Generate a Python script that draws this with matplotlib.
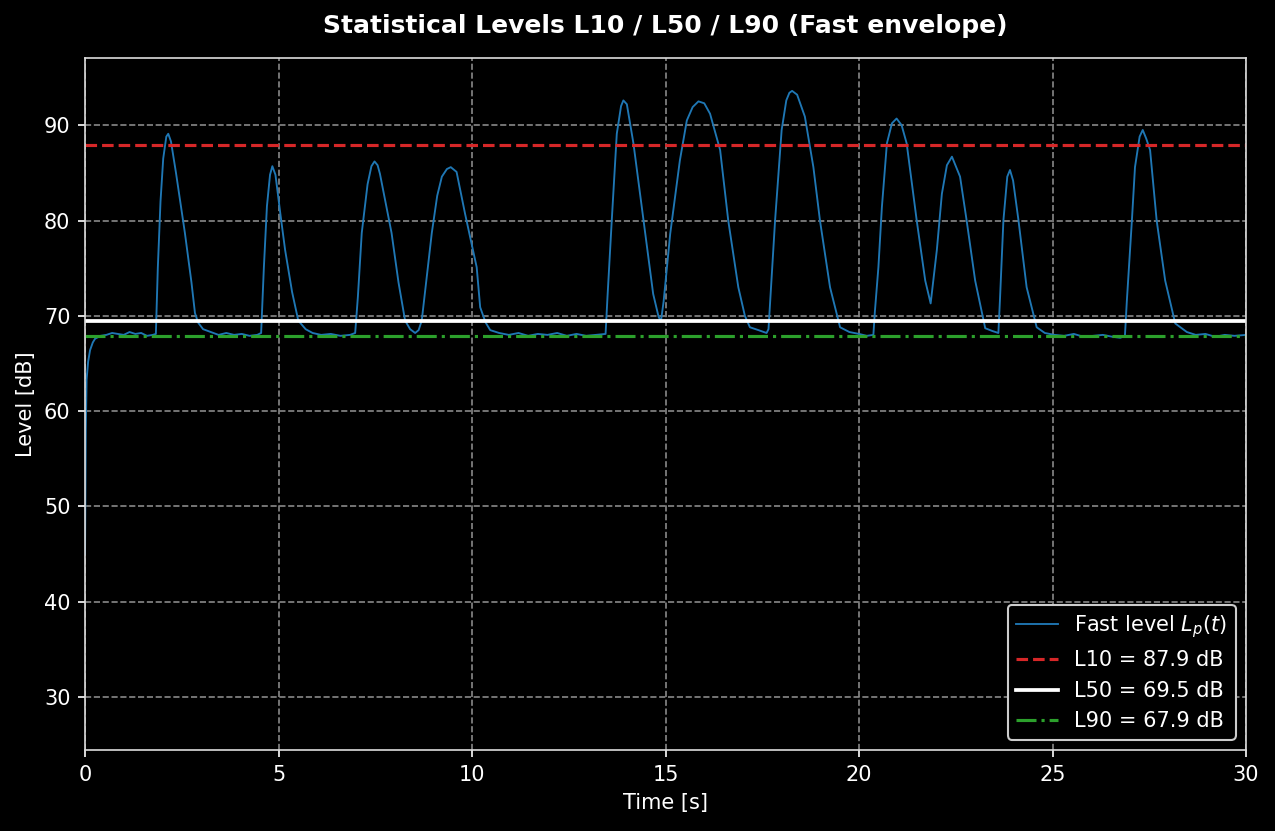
"""
Statistical levels L10 / L50 / L90 on a fast-weighted level trace.
Values read by eye from the reference chart.
"""

import matplotlib
matplotlib.use("Agg")
import matplotlib.pyplot as plt

# ── Data: fast level trace (time [s], level [dB]) ───────────────────────────────
time_s = [
    0.00, 0.02, 0.04, 0.08, 0.13, 0.20, 0.26, 0.40, 0.55, 0.70, 0.85, 1.00,
    1.15, 1.30, 1.45, 1.60, 1.75, 1.83, 1.88, 1.95, 2.02, 2.10, 2.15, 2.22,
    2.35, 2.58, 2.75, 2.84, 2.92, 3.05, 3.25, 3.45, 3.65, 3.85, 4.05, 4.25,
    4.45, 4.55, 4.62, 4.70, 4.78, 4.84, 4.92, 5.05, 5.17, 5.35, 5.51, 5.70,
    5.88, 6.10, 6.35, 6.60, 6.85, 6.98, 7.05, 7.15, 7.30, 7.40, 7.48, 7.56,
    7.62, 7.92, 8.10, 8.27, 8.40, 8.53, 8.62, 8.70, 8.96, 9.10, 9.22, 9.35,
    9.45, 9.60, 9.82, 10.12, 10.21, 10.35, 10.47, 10.70, 10.95, 11.20, 11.45,
    11.70, 11.95, 12.20, 12.45, 12.70, 12.95, 13.20, 13.45, 13.50, 13.61,
    13.74, 13.85, 13.91, 14.00, 14.17, 14.43, 14.68, 14.82, 14.88, 14.95,
    15.12, 15.37, 15.55, 15.70, 15.85, 16.00, 16.15, 16.41, 16.62, 16.88,
    17.05, 17.18, 17.40, 17.61, 17.66, 17.70, 17.83, 18.00, 18.12, 18.20,
    18.27, 18.40, 18.60, 18.82, 18.99, 19.25, 19.51, 19.75, 20.00, 20.20,
    20.37, 20.41, 20.50, 20.59, 20.72, 20.85, 20.97, 21.10, 21.23, 21.49,
    21.71, 21.85, 22.01, 22.14, 22.27, 22.40, 22.61, 22.78, 23.00, 23.26,
    23.45, 23.60, 23.64, 23.73, 23.83, 23.90, 23.98, 24.12, 24.33, 24.59,
    24.80, 25.05, 25.30, 25.55, 25.80, 26.05, 26.30, 26.55, 26.75, 26.87,
    26.92, 27.05, 27.13, 27.25, 27.33, 27.42, 27.52, 27.69, 27.91, 28.17,
    28.47, 28.70, 28.95, 29.20, 29.45, 29.70, 30.00,
]
level_db = [
    45.0, 58.0, 63.3, 65.2, 66.4, 67.2, 67.6, 67.9, 68.0, 68.2, 68.1, 68.0,
    68.3, 68.1, 68.2, 67.9, 68.0, 68.1, 75.0, 82.0, 86.5, 88.8, 89.1, 88.3,
    85.0, 78.7, 73.5, 70.3, 69.3, 68.6, 68.3, 68.0, 68.2, 68.0, 68.1, 67.9,
    68.0, 68.2, 75.0, 81.5, 84.8, 85.7, 84.8, 80.6, 76.9, 72.5, 69.5, 68.6,
    68.2, 68.0, 68.1, 67.9, 68.0, 68.2, 72.0, 78.7, 83.8, 85.7, 86.2, 85.8,
    84.9, 78.7, 73.5, 69.5, 68.6, 68.2, 68.5, 69.5, 78.7, 82.6, 84.6, 85.4,
    85.6, 85.1, 80.7, 75.1, 70.9, 69.3, 68.5, 68.2, 68.0, 68.2, 67.9,
    68.1, 68.0, 68.2, 67.9, 68.1, 67.9, 68.0, 68.1, 72.0, 80.0,
    89.1, 92.0, 92.6, 92.2, 88.1, 80.0, 72.3, 69.9, 69.4, 71.5,
    78.6, 86.3, 90.5, 91.9, 92.5, 92.3, 91.2, 87.4, 80.0, 73.0,
    70.0, 68.8, 68.5, 68.2, 68.6, 71.3, 80.0, 89.5, 92.6, 93.4,
    93.6, 93.2, 90.9, 85.6, 80.0, 73.0, 68.8, 68.3, 68.1, 67.9,
    68.0, 70.5, 75.1, 81.4, 88.1, 90.2, 90.7, 90.0, 88.1, 80.0,
    73.7, 71.3, 76.9, 82.8, 85.8, 86.7, 84.6, 80.0, 73.7, 68.7,
    68.4, 68.2, 71.6, 80.0, 84.6, 85.3, 84.2, 80.0, 73.0, 68.8,
    68.2, 68.0, 67.9, 68.1, 67.8, 67.9, 68.0, 67.8, 67.7, 67.9,
    71.6, 80.0, 85.6, 88.8, 89.5, 88.6, 87.4, 80.0, 73.7, 69.2,
    68.3, 68.0, 68.1, 67.8, 68.0, 67.9, 68.0,
]

# ── Statistical levels ──────────────────────────────────────────────────────────
stat_names  = ["L10", "L50", "L90"]
stat_values = [87.9, 69.5, 67.9]

# ── Figure ──────────────────────────────────────────────────────────────────────
plt.style.use("dark_background")
fig = plt.figure(figsize=(8.5, 5.54), dpi=150)
ax = fig.add_axes([0.0667, 0.0975, 0.9106, 0.8327])

ax.plot(time_s, level_db, color="#1f77b4", lw=0.9, label="Fast level $L_p(t)$")

styles = [
    dict(color="#d62728", ls="--", lw=1.5),
    dict(color="white",   ls="-",  lw=1.8),
    dict(color="#2ca02c", ls="-.", lw=1.5),
]
for name, val, st in zip(stat_names, stat_values, styles):
    ax.axhline(val, label=f"{name} = {val:.1f} dB", **st)

ax.set_xlim(0, 30)
ax.set_ylim(24.45, 97.05)
ax.set_xlabel("Time [s]")
ax.set_ylabel("Level [dB]")
ax.set_title("Statistical Levels L10 / L50 / L90 (Fast envelope)",
             fontsize=12, fontweight="bold", pad=12)

ax.grid(True, ls="--", color="#888888", lw=0.8)
for sp in ax.spines.values():
    sp.set_color("#dddddd")

leg = ax.legend(loc="lower right", facecolor="black", edgecolor="#cccccc",
                framealpha=1.0)

plt.savefig("out.png", dpi=150, facecolor="black")
plt.close()
